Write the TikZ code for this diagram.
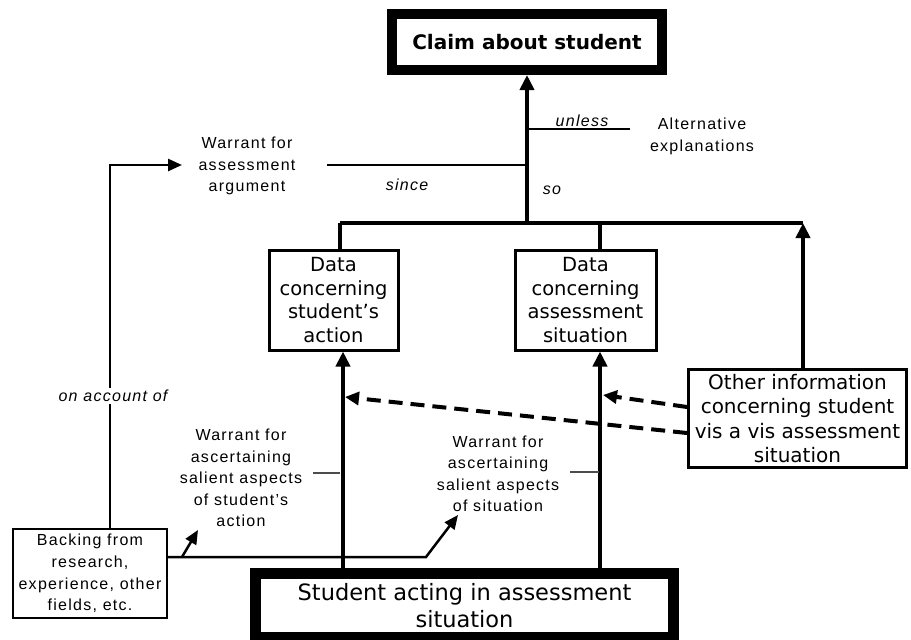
\documentclass[tikz,border=0pt]{standalone}
\usepackage{fontspec}
\setmainfont{DejaVu Sans}
\newfontfamily\labfont[LetterSpace=8]{Liberation Sans}
\usetikzlibrary{arrows.meta}
\begin{document}
\begin{tikzpicture}[x=1pt,y=-1pt,
  claimbox/.style={draw,line width=10pt,minimum width=270pt,minimum height=56pt,inner sep=0pt,align=center,font=\bfseries\fontsize{20}{24}\selectfont},
  studentbox/.style={draw,line width=11pt,minimum width=418pt,minimum height=64pt,inner sep=0pt,align=center,font=\fontsize{22.5}{27}\selectfont},
  databox/.style={draw,line width=3pt,minimum height=100pt,inner sep=0pt,align=center,font=\fontsize{19.5}{23.5}\selectfont},
  otherbox/.style={draw,line width=3pt,minimum width=218pt,minimum height=98pt,inner sep=0pt,align=center,font=\fontsize{20}{24.5}\selectfont},
  backbox/.style={draw,line width=2pt,minimum width=154pt,minimum height=89pt,inner sep=0pt,align=center,font=\labfont\fontsize{16}{21.7}\selectfont},
  lbl/.style={inner sep=1pt,align=center,font=\labfont\fontsize{16}{21.5}\selectfont},
  ital/.style={inner sep=1pt,font=\labfont\itshape\fontsize{16}{20}\selectfont},
  bigline/.style={line width=4.5pt},
  conn/.style={line width=4pt},
  mainarrow/.style={line width=4.5pt,-{Triangle[length=15pt,width=14pt]}},
  dasharrow/.style={line width=4pt,dash pattern=on 14pt off 8pt,-{Triangle[length=14pt,width=13pt]}},
  backarrow/.style={line width=2.5pt,-{Triangle[length=14pt,width=12pt]}},
  thinline/.style={line width=2pt},
  tick/.style={line width=2.5pt,black!70}]
\useasboundingbox (0,0) rectangle (911,640);

% nodes
\node[claimbox] (claim) at (527,42) {Claim about student};
\node[studentbox] (student) at (464.5,605.5) {Student acting in assessment\\situation};
\node[databox,minimum width=129pt] (d1) at (333.5,300) {Data\\concerning\\student’s\\action};
\node[databox,minimum width=141pt] (d2) at (585.5,300) {Data\\concerning\\assessment\\situation};
\node[otherbox] (other) at (797.5,418.5) {Other information\\concerning student\\vis a vis assessment\\situation};
\node[backbox] (back) at (90,573.5) {Backing from\\research,\\experience, other\\fields, etc.};

\node[lbl] (wa) at (247,166) {Warrant for\\assessment\\argument};
\node[lbl] (alt) at (702,136.5) {Alternative\\explanations};
\node[ital] (unless) at (582,121) {unless};
\node[ital] (since) at (407,185) {since};
\node[ital] (so) at (552,190) {so};
\node[lbl] (ws) at (241,478) {Warrant for\\ascertaining\\salient aspects\\of student’s\\action};
\node[lbl] (wsit) at (498,474) {Warrant for\\ascertaining\\salient aspects\\of situation};

% coordinates
\coordinate (jm) at (527,223);
\coordinate (jl) at (340,223);
\coordinate (j2) at (600,223);
\coordinate (jr) at (803,223);
\coordinate (a1) at (343,400);
\coordinate (a2) at (600,400);
\coordinate (o1) at (700,407);
\coordinate (o2) at (700,433);
\coordinate (t1) at (603,395);
\coordinate (t2) at (345,397);
\coordinate (w1) at (327,165);
\coordinate (u0) at (527,129);
\coordinate (u1) at (630,129);
\coordinate (k1a) at (313,473);
\coordinate (k1b) at (340,473);
\coordinate (k2a) at (570,472);
\coordinate (k2b) at (599,472);
\coordinate (bk) at (110,165);
\coordinate (bkt) at (182,165);
\coordinate (b0) at (0,557);
\coordinate (bm) at (426,557);
\coordinate (bt) at (458,515);
\coordinate (s0) at (182,557);
\coordinate (st) at (198,530);

% connectors
\draw[bigline] (jl) -- (jr);
\draw[mainarrow] (jm) -- (claim.south);
\draw[conn] (jl) -- (d1.north -| jl);
\draw[conn] (j2) -- (d2.north -| j2);
\draw[mainarrow] (other.north -| jr) -- (jr);
\draw[mainarrow] (student.north -| a1) -- (d1.south -| a1);
\draw[mainarrow] (student.north -| a2) -- (d2.south -| a2);
\draw[dasharrow] (other.west |- o1) -- (t1);
\draw[dasharrow] (other.west |- o2) -- (t2);
\draw[thinline] (w1) -- (w1 -| jm);
\draw[thinline] (u0) -- (u1);
\draw[tick] (k1a) -- (k1b);
\draw[tick] (k2a) -- (k2b);
\draw[backarrow] (back.north -| bk) -- (bk) -- (bkt);
\draw[backarrow] (back.east |- b0) -- (bm) -- (bt);
\draw[backarrow] (s0) -- (st);
\node[ital,fill=white,inner sep=2pt] (oao) at (113,396) {on account of};
\end{tikzpicture}
\end{document}
